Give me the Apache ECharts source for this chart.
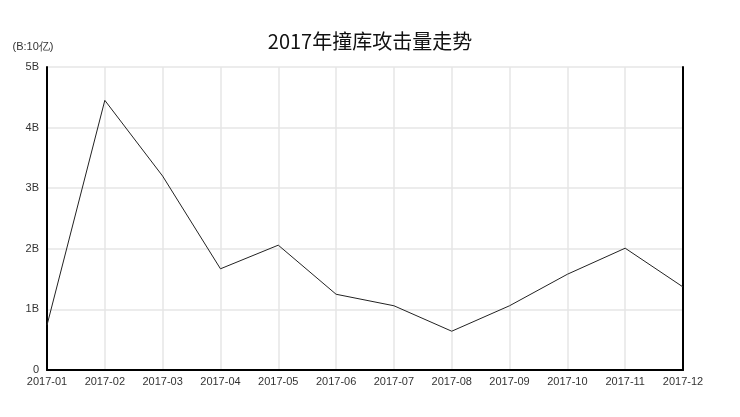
<!doctype html>
<html>

<head>
  <meta charset="utf-8">
  <script src="https://cdn.jsdelivr.net/npm/echarts@6/dist/echarts.min.js"></script>
</head>

<body>
  <style>
    html,
    body {
      width: 100%;
      height: 100%;
      margin: 0;
      background-color: #fff;
    }

    #main {
      width: 740px;
      height: 417px;
    }
  </style>
  <div id='main'></div>
  <script>
    // 月份
    var months = ['2017-01', '2017-02', '2017-03', '2017-04', '2017-05', '2017-06',
      '2017-07', '2017-08', '2017-09', '2017-10', '2017-11', '2017-12'];
    // 撞库攻击量 (单位: 10亿)
    var attacks = [0.74, 4.45, 3.2, 1.67, 2.06, 1.25, 1.06, 0.64, 1.06, 1.58, 2.01, 1.37];
    var yLabels = ['0', '1B', '2B', '3B', '4B', '5B'];

    var chart = echarts.init(document.getElementById('main'));
    var font = 'Liberation Sans, Arial, sans-serif';
    var option = {
      animation: false,
      title: {
        text: '2017年撞库攻击量走势',
        left: 'center',
        top: 26,
        textStyle: { fontSize: 20, fontWeight: 'normal', color: '#111', fontFamily: 'Noto Sans CJK SC' }
      },
      grid: { left: 47, right: 57, top: 67, bottom: 47 },
      xAxis: {
        type: 'category',
        boundaryGap: false,
        data: months,
        axisLine: { lineStyle: { color: '#000', width: 2 } },
        axisTick: { show: false },
        axisLabel: { color: '#333', fontSize: 11, fontFamily: font, margin: 6, interval: 0 },
        splitLine: { show: true, interval: 0, lineStyle: { color: '#e6e6e6', width: 1.5 } }
      },
      yAxis: [{
        type: 'value',
        min: 0,
        max: 5,
        interval: 1,
        name: '(B:10亿)',
        nameLocation: 'end',
        nameGap: 15,
        nameTextStyle: { color: '#333', fontSize: 11, fontFamily: font, align: 'center', padding: [0, 28, 0, 0] },
        axisLine: { show: true, lineStyle: { color: '#000', width: 2 } },
        axisTick: { show: false },
        axisLabel: {
          color: '#333', fontSize: 11, fontFamily: font, margin: 8,
          formatter: function (v) { return yLabels[v]; }
        },
        splitLine: { lineStyle: { color: '#e6e6e6', width: 1.5 } }
      }, {
        type: 'value',
        min: 0,
        max: 5,
        interval: 1,
        position: 'right',
        axisLine: { show: true, lineStyle: { color: '#000', width: 2 } },
        axisTick: { show: false },
        axisLabel: { show: false },
        splitLine: { show: false }
      }],
      series: [{
        type: 'line',
        data: attacks,
        showSymbol: false,
        lineStyle: { color: '#222', width: 1 }
      }]
    };
    chart.setOption(option);
  </script>
</body>

</html>
